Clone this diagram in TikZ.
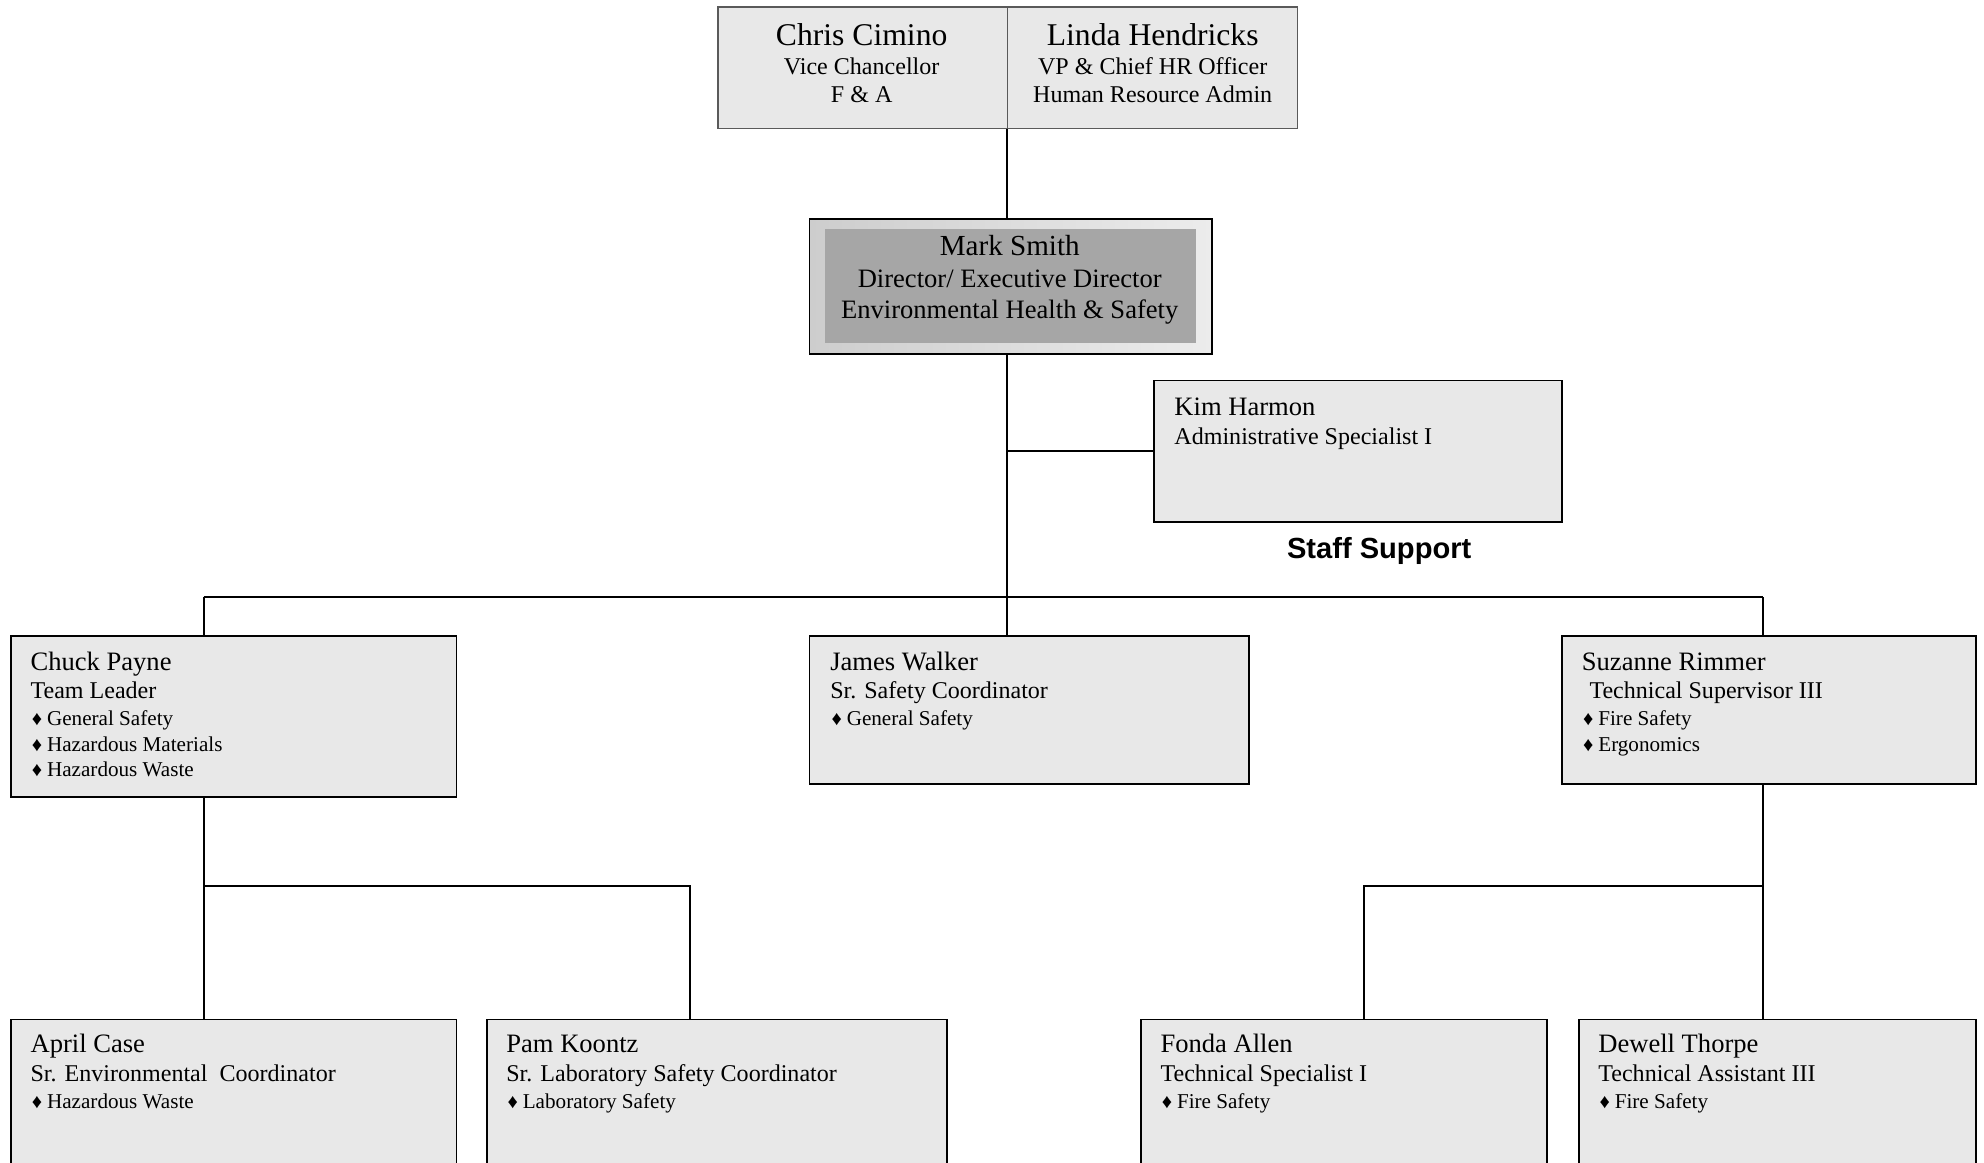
\documentclass[tikz,border=0pt]{standalone}
\usepackage{fontspec}
\setmainfont{Liberation Serif}
\newfontfamily\ssfont{Liberation Sans}
\definecolor{boxgray}{RGB}{232,232,232}
\definecolor{topline}{RGB}{90,90,90}
\definecolor{innergray}{RGB}{166,166,166}
\newcommand{\fTopName}{\fontsize{25}{30}\selectfont}
\newcommand{\fTopSub}{\fontsize{19}{22}\selectfont}
\newcommand{\fMSName}{\fontsize{23}{27}\selectfont}
\newcommand{\fMSSub}{\fontsize{21}{25}\selectfont}
\newcommand{\fName}{\fontsize{21}{25}\selectfont}
\newcommand{\fTitle}{\fontsize{19}{22}\selectfont}
\newcommand{\fBul}{\fontsize{16.7}{20}\selectfont}
\newcommand{\fDia}{\fontsize{16}{19}\selectfont}
\tikzset{
  box/.style={draw=black, line width=1.5pt, fill=boxgray, anchor=north west, inner sep=0pt},
  topbox/.style={draw=topline, line width=1pt, fill=boxgray, anchor=north west, inner sep=0pt},
  conn/.style={draw=black, line width=1.5pt},
  txt/.style={anchor=base west, inner sep=0pt},
  ctxt/.style={anchor=base, inner sep=0pt},
}
\begin{document}
\begin{tikzpicture}[x=1pt,y=-1pt]
\path[use as bounding box, clip] (0,0) rectangle (1568,919);
\fill[white] (0,0) rectangle (1568,919);

% ---- top box ----
\node[topbox, minimum width=229pt, minimum height=96pt] (cc) at (567,5) {};
\node[topbox, minimum width=229pt, minimum height=96pt] (lh) at (796,5) {};
\node[ctxt, font=\fTopName] (cc1) at (681,36) {Chris Cimino};
\node[ctxt, font=\fTopSub] (cc2) at (681,59) {Vice Chancellor};
\node[ctxt, font=\fTopSub] (cc3) at (681,81) {F \& A};
\node[ctxt, font=\fTopName] (lh1) at (911,36) {Linda Hendricks};
\node[ctxt, font=\fTopSub] (lh2) at (911,59) {VP \& Chief HR Officer};
\node[ctxt, font=\fTopSub] (lh3) at (911,81) {Human Resource Admin};

% ---- Mark Smith ----
\node[box, minimum width=318pt, minimum height=107pt,
      left color={rgb,255:red,205;green,205;blue,205},
      right color={rgb,255:red,236;green,236;blue,236}] (ms) at (639,172) {};
\node[anchor=north west, inner sep=0pt, fill=innergray, minimum width=293pt, minimum height=90pt] (msi) at (652,181) {};
\node[ctxt, font=\fMSName] (ms1) at (798,202) {Mark Smith};
\node[ctxt, font=\fMSSub] (ms2) at (798,227) {Director/ Executive Director};
\node[ctxt, font=\fMSSub] (ms3) at (798,252) {Environmental Health \& Safety};

% ---- Kim Harmon ----
\node[box, minimum width=323pt, minimum height=112pt] (kh) at (911,300) {};
\node[txt, font=\fName] (kh1) at (928,328) {Kim Harmon};
\node[txt, font=\fTitle] (kh2) at (928,351) {Administrative Specialist I};
\node[ctxt, font=\ssfont\bfseries\fontsize{23}{27}\selectfont] (staff) at (1090,441) {Staff Support};

% ---- second row ----
\node[box, minimum width=352pt, minimum height=127pt] (cp) at (8,502) {};
\node[box, minimum width=347pt, minimum height=117pt] (jw) at (639,502) {};
\node[box, minimum width=327pt, minimum height=117pt] (sr) at (1234,502) {};

\node[txt, font=\fName] (cp1) at (24,530) {Chuck Payne};
\node[txt, font=\fTitle] (cp2) at (24,552) {Team Leader};
\node[txt, font=\fDia] (cp3b) at (25,573) {♦};
\node[txt, font=\fBul] (cp3) at (37,573) {General Safety};
\node[txt, font=\fDia] (cp4b) at (25,594) {♦};
\node[txt, font=\fBul] (cp4) at (37,594) {Hazardous Materials};
\node[txt, font=\fDia] (cp5b) at (25,614) {♦};
\node[txt, font=\fBul] (cp5) at (37,614) {Hazardous Waste};

\node[txt, font=\fName] (jw1) at (656,530) {James Walker};
\node[txt, font=\fTitle] (jw2) at (656,552) {Sr. Safety Coordinator};
\node[txt, font=\fDia] (jw3b) at (657,573) {♦};
\node[txt, font=\fBul] (jw3) at (669,573) {General Safety};

\node[txt, font=\fName] (sr1) at (1250,530) {Suzanne Rimmer};
\node[txt, font=\fTitle] (sr2) at (1256,552) {Technical Supervisor III};
\node[txt, font=\fDia] (sr3b) at (1251,573) {♦};
\node[txt, font=\fBul] (sr3) at (1263,573) {Fire Safety};
\node[txt, font=\fDia] (sr4b) at (1251,594) {♦};
\node[txt, font=\fBul] (sr4) at (1263,594) {Ergonomics};

% ---- bottom row ----
\node[box, minimum width=352pt, minimum height=160pt] (ac) at (8,805) {};
\node[box, minimum width=364pt, minimum height=160pt] (pk) at (384,805) {};
\node[box, minimum width=321pt, minimum height=160pt] (fa) at (901,805) {};
\node[box, minimum width=314pt, minimum height=160pt] (dt) at (1247,805) {};

\node[txt, font=\fName] (ac1) at (24,832) {April Case};
\node[txt, font=\fTitle] (ac2) at (24,855) {Sr. Environmental\hspace{0.25em}\ Coordinator};
\node[txt, font=\fDia] (ac3b) at (25,876) {♦};
\node[txt, font=\fBul] (ac3) at (37,876) {Hazardous Waste};

\node[txt, font=\fName] (pk1) at (400,832) {Pam Koontz};
\node[txt, font=\fTitle] (pk2) at (400,855) {Sr. Laboratory Safety Coordinator};
\node[txt, font=\fDia] (pk3b) at (401,876) {♦};
\node[txt, font=\fBul] (pk3) at (413,876) {Laboratory Safety};

\node[txt, font=\fName] (fa1) at (917,832) {Fonda Allen};
\node[txt, font=\fTitle] (fa2) at (917,855) {Technical Specialist I};
\node[txt, font=\fDia] (fa3b) at (918,876) {♦};
\node[txt, font=\fBul] (fa3) at (930,876) {Fire Safety};

\node[txt, font=\fName] (dt1) at (1263,832) {Dewell Thorpe};
\node[txt, font=\fTitle] (dt2) at (1263,855) {Technical Assistant III};
\node[txt, font=\fDia] (dt3b) at (1264,876) {♦};
\node[txt, font=\fBul] (dt3) at (1276,876) {Fire Safety};

% ---- connectors ----
\coordinate (busL) at (161,472);
\coordinate (busR) at (1393,472);
\coordinate (subL) at (545,700);
\coordinate (subR) at (1078,700);

\draw[conn] (lh.south west) -- (lh.south west |- ms.north);
\draw[conn] (ms.south -| lh.south west) -- (busL -| lh.south west);
\draw[conn] (kh.west -| lh.south west) -- (kh.west);
\draw[conn] (busL) -- (busR);
\draw[conn] (busL) -- (cp.north -| busL);
\draw[conn] (busL -| lh.south west) -- (jw.north -| lh.south west);
\draw[conn] (busR) -- (sr.north -| busR);

\draw[conn] (cp.south -| busL) -- (ac.north -| busL);
\draw[conn] (subL -| busL) -- (subL) -- (pk.north -| subL);

\draw[conn] (sr.south -| busR) -- (dt.north -| busR);
\draw[conn] (subR -| busR) -- (subR) -- (fa.north -| subR);
\end{tikzpicture}
\end{document}
